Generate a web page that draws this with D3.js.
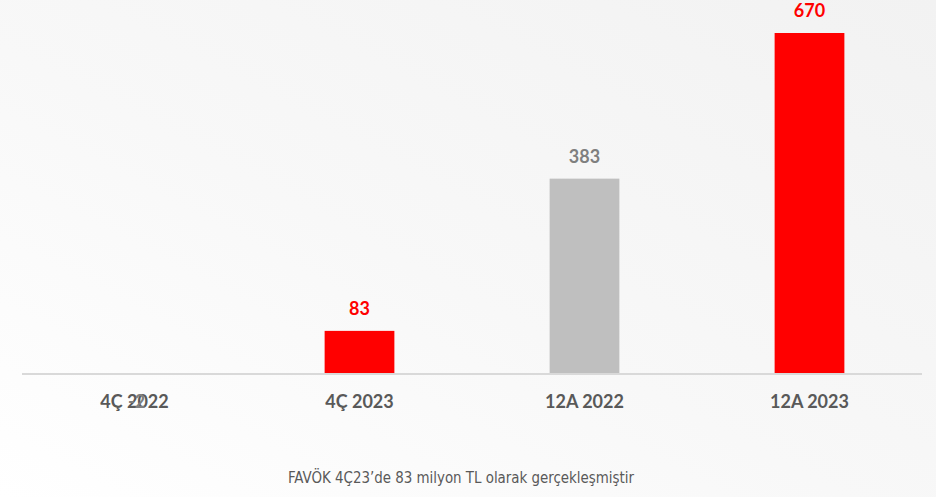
<!DOCTYPE html>
<html>
<head>
<meta charset="utf-8">
<script src="https://cdn.jsdelivr.net/npm/d3@7"></script>
<style>
  body { margin: 0; padding: 0; overflow: hidden; }
</style>
</head>
<body>
<div class="favokChart"></div>
<script>
// Chart data
const categories = ["4Ç 2022", "4Ç 2023", "12A 2022", "12A 2023"]
const values = [-2, 83, 383, 670]
const valueLabels = ["-2", "83", "383", "670"]
const barColors = ["#ff0000", "#ff0000", "#bfbfbf", "#ff0000"]
const labelColors = ["#7f7f7f", "#ff0000", "#7f7f7f", "#ff0000"]
const footnote = "FAVÖK 4Ç23’de 83 milyon TL olarak gerçekleşmiştir"

const width = 936
const height = 497
const margin = { top: 33, right: 14, bottom: 124, left: 22 }
const baseY = height - margin.bottom

const svg = d3.select(".favokChart")
  .append("svg")
  .attr("width", width)
  .attr("height", height)

// Soft background
const defs = svg.append("defs")
const grad = defs.append("linearGradient")
  .attr("id", "bg")
  .attr("x1", "0").attr("y1", "1")
  .attr("x2", "1").attr("y2", "0")
grad.append("stop").attr("offset", "0%").attr("stop-color", "#ffffff")
grad.append("stop").attr("offset", "45%").attr("stop-color", "#f8f8f8")
grad.append("stop").attr("offset", "100%").attr("stop-color", "#f2f2f2")

svg.append("rect")
  .attr("width", width)
  .attr("height", height)
  .attr("fill", "url(#bg)")

// Scales
const x = d3.scaleBand()
  .domain(categories)
  .range([margin.left, width - margin.right])
  .paddingInner(0.69)
  .paddingOuter(0.345)

const y = d3.scaleLinear()
  .domain([0, 670])
  .range([baseY, margin.top])

// Bars
svg.selectAll(".bar")
  .data(values)
  .join("rect")
  .attr("class", "bar")
  .attr("x", (d, i) => x(categories[i]))
  .attr("y", d => Math.min(y(d), y(0)))
  .attr("width", x.bandwidth())
  .attr("height", d => Math.abs(y(d) - y(0)))
  .attr("fill", (d, i) => barColors[i])

// Baseline
svg.append("line")
  .attr("x1", margin.left)
  .attr("x2", width - margin.right)
  .attr("y1", y(0) + 1)
  .attr("y2", y(0) + 1)
  .attr("stroke", "#d9d9d9")
  .attr("stroke-width", 2)

// Category labels
svg.selectAll(".cat")
  .data(categories)
  .join("text")
  .attr("class", "cat")
  .attr("x", d => x(d) + x.bandwidth() / 2)
  .attr("y", baseY + 35)
  .attr("text-anchor", "middle")
  .attr("fill", "#595959")
  .style("font-family", "Lato, 'Open Sans', sans-serif")
  .style("font-weight", "bold")
  .style("font-size", "18px")
  .text(d => d)

// Value labels (the negative one sits on top of its category label, as in the source)
svg.selectAll(".val")
  .data(values)
  .join("text")
  .attr("class", "val")
  .attr("x", (d, i) => x(categories[i]) + x.bandwidth() / 2 + (d < 0 ? 2 : 0))
  .attr("y", d => d < 0 ? baseY + 35 : y(d) - 16)
  .attr("text-anchor", "middle")
  .attr("fill", (d, i) => labelColors[i])
  .style("font-family", "Lato, 'Open Sans', sans-serif")
  .style("font-weight", "bold")
  .style("font-size", "18px")
  .text((d, i) => valueLabels[i])

// Footnote
svg.append("text")
  .attr("x", 461)
  .attr("y", 483)
  .attr("text-anchor", "middle")
  .attr("fill", "#595959")
  .attr("textLength", 346)
  .attr("lengthAdjust", "spacingAndGlyphs")
  .style("font-family", "'Liberation Sans Narrow', 'DejaVu Sans Condensed', sans-serif")
  .style("font-size", "16px")
  .text(footnote)
</script>
</body>
</html>
